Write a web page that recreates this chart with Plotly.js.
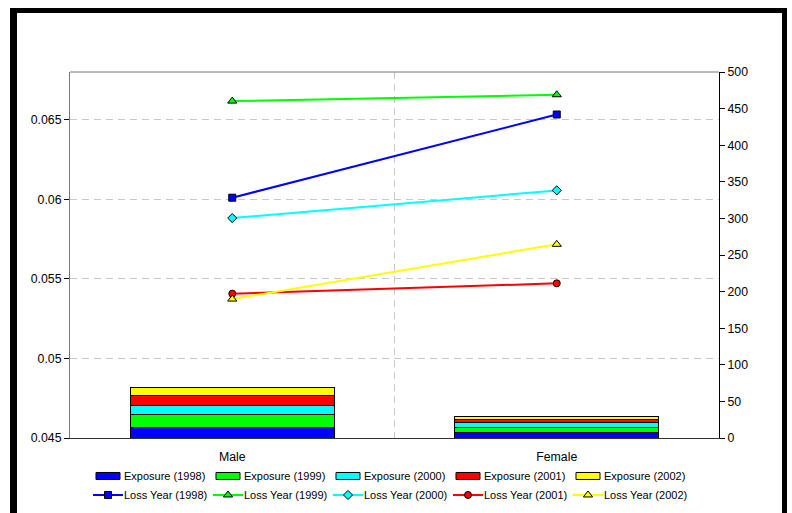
<!DOCTYPE html>
<html>
<head>
<meta charset="utf-8">
<script src="https://cdn.plot.ly/plotly-3.0.1.min.js"></script>
<style>
  html, body { margin: 0; padding: 0; background: #fff; }
  #wrap { position: relative; width: 792px; height: 513px; overflow: hidden; }
  #chart { position: absolute; left: 0; top: 0; width: 792px; height: 513px; }
  #frame {
    position: absolute; left: 10px; top: 8px; width: 777px; height: 520px;
    border-left: 7px solid #000; border-top: 5px solid #000; border-right: 5px solid #000;
    box-sizing: border-box; pointer-events: none;
  }
</style>
</head>
<body>
<div id="wrap">
  <div id="chart"></div>
  <div id="frame"></div>
</div>
<script>
// Categories
var categories = ['Male', 'Female'];

// Exposure by year (secondary axis, stacked columns)
var exposure1998 = [14, 7];
var exposure1999 = [18, 8];
var exposure2000 = [13, 6];
var exposure2001 = [13, 4];
var exposure2002 = [10.5, 4.5];

// Loss by year (primary axis, lines)
var loss1998 = [0.0601, 0.06533];
var loss1999 = [0.06617, 0.06657];
var loss2000 = [0.05882, 0.06056];
var loss2001 = [0.05407, 0.05472];
var loss2002 = [0.05373, 0.05717];

// Tick labels
var leftTickVals = [0.045, 0.05, 0.055, 0.06, 0.065];
var leftTickText = ['0.045', '0.05', '0.055', '0.06', '0.065'];
var rightTickVals = [0, 50, 100, 150, 200, 250, 300, 350, 400, 450, 500];
var rightTickText = ['0', '50', '100', '150', '200', '250', '300', '350', '400', '450', '500'];

var years = ['1998', '1999', '2000', '2001', '2002'];
var colors = ['#0000FF', '#00FF00', '#00FFFF', '#FF0000', '#FFFF00'];
var exposures = [exposure1998, exposure1999, exposure2000, exposure2001, exposure2002];
var losses = [loss1998, loss1999, loss2000, loss2001, loss2002];
var symbols = ['square', 'triangle-up', 'diamond', 'circle', 'triangle-up'];
var sizes = [7, 8, 7, 7, 8];

var FONT = 'Liberation Sans, Arial, sans-serif';
var traces = [];

exposures.forEach(function (vals, i) {
  traces.push({
    type: 'bar',
    name: 'Exposure (' + years[i] + ')',
    x: categories,
    y: vals,
    yaxis: 'y2',
    marker: { color: colors[i], line: { color: '#000', width: 1 } },
    hoverinfo: 'skip'
  });
});

losses.forEach(function (vals, i) {
  traces.push({
    type: 'scatter',
    mode: 'lines+markers',
    name: 'Loss Year (' + years[i] + ')',
    x: categories,
    y: vals,
    yaxis: 'y',
    line: { color: colors[i], width: 2 },
    marker: { symbol: symbols[i], size: sizes[i], color: colors[i], line: { color: '#000', width: 1 } },
    hoverinfo: 'skip'
  });
});

var layout = {
  width: 792,
  height: 513,
  margin: { l: 70, r: 73, t: 72, b: 75, autoexpand: false },
  paper_bgcolor: '#fff',
  plot_bgcolor: '#fff',
  font: { family: FONT, size: 12.3, color: '#000' },
  barmode: 'stack',
  bargap: 0.371,
  showlegend: true,
  legend: {
    orientation: 'h',
    traceorder: 'normal',
    x: 0.0154, xanchor: 'left',
    y: -0.0423, yanchor: 'top',
    entrywidth: 75,
    entrywidthmode: 'pixels',
    borderwidth: 8,
    bordercolor: 'rgba(0,0,0,0)',
    font: { family: FONT, size: 11, color: '#000' },
    bgcolor: 'rgba(0,0,0,0)'
  },
  xaxis: {
    type: 'category',
    tickson: 'boundaries',
    ticks: '',
    showline: true,
    linecolor: '#333',
    linewidth: 1,
    showgrid: true,
    gridcolor: '#c8c8c8',
    griddash: '7px,5px',
    gridwidth: 1,
    zeroline: false,
    ticklabelstandoff: 7,
    tickfont: { family: FONT, size: 12.3, color: '#000' }
  },
  yaxis: {
    range: [0.045, 0.068],
    tickvals: leftTickVals,
    ticktext: leftTickText,
    ticks: 'outside',
    ticklen: 5,
    tickcolor: '#000',
    showline: true,
    linecolor: '#777',
    linewidth: 1,
    showgrid: true,
    gridcolor: '#c8c8c8',
    griddash: '7px,5px',
    gridwidth: 1,
    zeroline: false,
    tickfont: { family: FONT, size: 12.3, color: '#000' }
  },
  yaxis2: {
    overlaying: 'y',
    side: 'right',
    range: [0, 500],
    tickvals: rightTickVals,
    ticktext: rightTickText,
    ticks: 'outside',
    ticklen: 5,
    tickcolor: '#000',
    showline: true,
    linecolor: '#000',
    linewidth: 1,
    showgrid: false,
    zeroline: false,
    tickfont: { family: FONT, size: 12.3, color: '#000' }
  },
  shapes: [
    // top edge of the plot area
    { type: 'line', xref: 'paper', yref: 'paper', x0: 0, x1: 1, y0: 1, y1: 1,
      line: { color: '#777', width: 1 } }
  ]
};

Plotly.newPlot('chart', traces, layout, { staticPlot: true, displayModeBar: false })
  .then(function (gd) {
    // wide, flat swatches for the column entries of the legend
    gd.querySelectorAll('.legend .legendpoints path.legendundefined, .legend .legendbar path')
      .forEach(function (p) { p.setAttribute('d', 'M12,3.5H-12V-3.5H12Z'); });
    // labels sit a little closer to their symbols
    gd.querySelectorAll('.legend text.legendtext')
      .forEach(function (t) { t.setAttribute('x', 36); });
    // let the last column of labels run past the legend box
    gd.querySelectorAll('.legend .scrollbox, .legend')
      .forEach(function (g) { g.removeAttribute('clip-path'); });
  });
</script>
</body>
</html>
